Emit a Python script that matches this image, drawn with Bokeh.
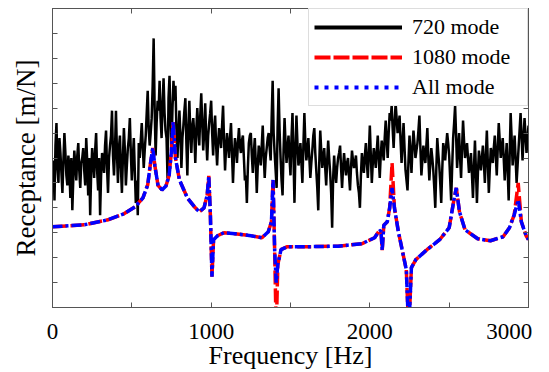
from bokeh.plotting import figure
from bokeh.models import LinearAxis, FixedTicker, Legend, LegendItem, Range1d
from bokeh.embed import file_html
from bokeh.resources import INLINE
import numpy as np

# ---------------- data ----------------
freq_step = 6.25  # Hz, sampling of the measured (720 mode) curve
# values at 0, 12.5, 25, ... Hz
resp_720_even = [
    # 0 - 537.5 Hz
    5.2, 4.3, 7.4, 5.0, 6.2, 4.6, 7.0, 5.3, 6.1, 4.4, 3.9, 6.3, 5.1, 6.6, 4.8, 6.0,
    5.5, 6.8, 4.5, 3.7, 6.4, 5.2, 7.0, 4.7, 3.7, 6.2, 5.4, 7.1, 4.6, 6.5, 7.9, 5.3,
    7.9, 5.0, 6.9, 4.6, 7.2, 4.9, 6.4, 7.6, 5.1, 6.8, 4.2, 3.7,
    # 550 - 987.5 Hz
    6.0, 7.4, 5.6, 6.9, 8.7, 6.5, 7.6, 10.8, 6.1, 8.3, 9.1, 6.8, 9.2, 7.1, 5.2, 9.3,
    6.4, 9.1, 8.9, 6.0, 7.9, 5.6, 7.3, 8.4, 5.3, 8.3, 6.2, 7.6, 5.8, 8.0, 6.5, 8.6,
    6.3, 8.2, 5.9, 7.4,
    # 1000 - 1387.5 Hz
    8.3, 6.1, 7.7, 5.7, 7.2, 6.4, 8.1, 5.5, 7.0, 6.0, 7.4, 5.0, 6.8, 5.8, 7.2, 6.2,
    6.9, 5.1, 4.2, 6.6, 7.0, 5.4, 6.8, 4.6, 6.5, 5.7, 7.3, 5.2, 6.4, 7.0, 5.9, 9.1,
    # 1400 - 1987.5 Hz
    6.2, 4.8, 8.8, 6.0, 4.5, 7.6, 5.8, 6.9, 5.3, 7.8, 4.2, 7.7, 5.7, 6.6, 5.0, 7.8,
    5.9, 6.8, 5.2, 6.3, 7.2, 5.5, 3.9, 7.1, 5.6, 6.4, 4.9, 6.7, 5.4, 3.2, 6.1, 5.0,
    6.0, 6.5, 4.8, 6.2, 5.3, 6.0, 4.7, 6.3, 5.6, 6.1, 4.9, 4.0, 6.2, 5.4, 6.6, 5.2,
    # 2000 - 2487.5 Hz
    7.3, 5.0, 6.4, 5.6, 6.9, 5.2, 6.7, 5.9, 7.5, 6.0, 7.8, 8.1, 6.4, 8.2, 7.0, 7.7,
    5.8, 7.4, 5.5, 4.7, 6.9, 5.4, 7.1, 6.0, 6.6, 7.7, 5.3, 6.5, 5.8, 7.2, 5.1, 6.4,
    5.5, 4.0, 6.8, 5.7, 4.2, 6.6, 5.9, 7.0,
    # 2500 - 3000 Hz
    6.1, 4.3, 6.8, 8.1, 5.6, 7.0, 5.2, 7.5, 6.0, 6.6, 5.4, 6.2, 4.4, 6.7, 4.2, 6.3,
    5.5, 6.5, 5.0, 7.1, 4.6, 6.4, 5.8, 6.9, 5.3, 7.4, 6.0, 6.8, 5.1, 6.6, 4.3, 7.8,
    5.7, 6.9, 5.0, 6.4, 7.8, 5.9, 7.6, 6.2, 7.3,
]
# values at 6.25, 18.75, 31.25, ... Hz
resp_720_odd = [
    # 6.25 - 543.75 Hz
    5.9, 6.5, 5.6, 6.8, 5.4, 5.9, 6.2, 4.9, 5.6, 6.0, 5.2, 5.7, 6.1, 5.5, 5.8, 6.4,
    4.9, 5.9, 6.0, 5.4, 5.8, 6.3, 5.5, 6.0, 5.3, 5.9, 6.5, 5.6, 6.0, 6.9, 6.1, 6.3,
    6.2, 6.4, 5.6, 6.0, 6.3, 5.7, 6.8, 6.2, 6.0, 5.5, 5.1, 6.6,
    # 556.25 - 993.75 Hz
    6.7, 6.5, 6.3, 7.8, 7.2, 7.0, 8.9, 8.0, 7.4, 7.9, 7.6, 8.2, 7.8, 6.8, 8.4, 7.5,
    8.0, 8.3, 7.1, 7.0, 6.9, 6.8, 7.9, 6.6, 7.2, 7.0, 7.3, 6.9, 7.1, 7.2, 7.7, 7.4,
    7.1, 6.8, 6.9, 7.8,
    # 1006.25 - 1393.75 Hz
    7.0, 7.2, 6.5, 6.6, 6.8, 7.3, 6.7, 6.4, 6.5, 6.8, 6.2, 6.1, 6.4, 6.6, 6.5, 6.7,
    6.0, 5.3, 5.6, 6.9, 6.1, 6.2, 5.8, 5.7, 6.2, 6.5, 6.1, 6.0, 6.8, 6.4, 7.6, 7.0,
    # 1406.25 - 1993.75 Hz
    5.5, 7.2, 7.1, 5.1, 6.3, 6.6, 6.4, 6.0, 6.8, 6.1, 6.3, 6.6, 6.0, 5.8, 6.5, 6.6,
    6.3, 6.0, 5.8, 6.9, 6.2, 4.8, 5.8, 6.3, 6.0, 5.6, 5.9, 6.0, 4.6, 5.2, 5.4, 5.6,
    6.2, 5.6, 5.6, 5.7, 5.8, 5.3, 5.6, 5.9, 5.8, 5.4, 4.6, 5.3, 5.7, 6.1, 5.8, 6.2,
    # 2006.25 - 2493.75 Hz
    6.1, 5.8, 6.0, 6.3, 6.0, 6.1, 6.3, 6.8, 6.7, 7.0, 7.5, 7.2, 7.4, 7.6, 7.3, 6.7,
    6.6, 6.4, 5.1, 5.9, 6.2, 6.4, 6.6, 6.3, 7.1, 6.4, 5.9, 6.1, 6.5, 6.0, 5.8, 6.0,
    4.8, 5.5, 6.2, 5.0, 5.5, 6.3, 6.5, 6.6,
    # 2506.25 - 2993.75 Hz
    5.2, 5.6, 7.4, 6.9, 6.3, 6.0, 6.4, 6.7, 6.3, 6.0, 5.8, 5.3, 5.6, 5.5, 5.4, 5.9,
    6.0, 5.8, 6.1, 5.8, 5.6, 6.1, 6.4, 6.1, 6.4, 6.7, 6.4, 6.0, 5.9, 5.5, 6.1, 6.8,
    6.3, 6.0, 5.7, 7.1, 6.9, 6.8, 6.9, 6.8,
]
resp_720 = np.empty(len(resp_720_even) + len(resp_720_odd))
resp_720[0::2] = resp_720_even
resp_720[1::2] = resp_720_odd
freq_720 = np.arange(len(resp_720)) * freq_step

freq_modal = [0, 200, 350, 450, 520, 570, 600, 620, 632, 645,
              665, 690, 715, 735, 750, 760, 775, 800, 850, 900,
              925, 955, 975, 985, 995, 1005, 1015, 1040, 1080, 1150,
              1250, 1320, 1360, 1380, 1390, 1400, 1410, 1420, 1440, 1480,
              1600, 1800, 1950, 2030, 2055, 2070, 2078, 2088, 2110, 2125,
              2140, 2155, 2180, 2210, 2230, 2245, 2262, 2290, 2360, 2440,
              2500, 2530, 2545, 2565, 2600, 2680, 2760, 2840, 2880, 2910,
              2935, 2955, 2985, 3000]
resp_all = [3.24, 3.32, 3.52, 3.76, 4.04, 4.4, 4.92, 5.9, 6.4, 5.7,
            4.9, 4.72, 4.88, 5.3, 6.3, 7.44, 6.0, 5.12, 4.4, 4.0,
            3.84, 4.0, 4.52, 5.28, 3.72, 1.24, 2.72, 2.88, 3.0, 2.96,
            2.88, 2.8, 3.04, 3.44, 5.12, 2.32, 1.0, 1.72, 2.32, 2.44,
            2.44, 2.46, 2.56, 2.8, 3.04, 3.1, 2.3, 3.3, 3.44, 4.0,
            4.8, 4.0, 3.04, 2.12, 1.52, -1.0, 1.6, 1.92, 2.32, 2.72,
            3.2, 4.32, 4.8, 3.84, 3.12, 2.76, 2.68, 2.84, 3.2, 3.72,
            4.32, 3.44, 2.88, 2.72]
resp_1080 = [3.24, 3.32, 3.52, 3.76, 4.04, 4.4, 4.92, 5.9, 6.4, 5.7,
             4.9, 4.72, 4.88, 5.3, 6.3, 7.44, 6.0, 5.12, 4.4, 4.0,
             3.84, 4.0, 4.52, 5.28, 3.72, 1.24, 2.72, 2.88, 3.0, 2.96,
             2.88, 2.8, 3.04, 3.44, 5.12, 2.32, -1.0, 1.72, 2.32, 2.44,
             2.44, 2.46, 2.56, 2.8, 3.04, 3.1, 2.3, 3.3, 3.44, 4.0,
             5.8, 4.0, 3.04, 2.12, 1.52, -1.0, 1.6, 1.92, 2.32, 2.72,
             3.2, 4.32, 4.8, 3.84, 3.12, 2.76, 2.68, 2.84, 3.2, 3.72,
             5.0, 3.44, 2.88, 2.72]

x_major_ticks = [0, 1000, 2000, 3000]
x_minor_ticks = [500, 1500, 2500]
x_tick_labels = {3000: "3000\u00a0\u00a0\u00a0"}
y_ticks = [0, 1, 2, 3, 4, 5, 6, 7, 8, 9, 10, 11, 12]
series_names = ["720 mode", "1080 mode", "All mode"]
x_title = "Frequency [Hz]"
y_title = "Receptance [m/N]"

# ---------------- figure ----------------
FONT = "Liberation Serif"
AX = "#555555"

p = figure(width=549, height=372, x_range=Range1d(0, 3000), y_range=Range1d(0, 12),
           output_backend="svg", toolbar_location=None,
           min_border_left=52, min_border_right=21, min_border_top=8, min_border_bottom=64)
p.grid.visible = False
p.outline_line_color = AX
p.background_fill_color = "white"
p.border_fill_color = "white"

xb = p.below[0]
xb.ticker = FixedTicker(ticks=x_major_ticks, minor_ticks=x_minor_ticks)
xb.major_label_overrides = x_tick_labels
xb.major_label_text_font = FONT
xb.major_label_text_font_size = "23px"
xb.major_label_text_color = "black"
xb.major_label_standoff = 11
xb.axis_label = x_title
xb.axis_label_text_font = FONT
xb.axis_label_text_font_size = "26px"
xb.axis_label_text_font_style = "normal"
xb.axis_label_text_color = "black"
xb.axis_label_standoff = -6

yl = p.left[0]
yl.ticker = FixedTicker(ticks=y_ticks)
yl.major_label_text_font_size = "1px"
yl.major_label_text_color = None
yl.major_label_standoff = 0
yl.axis_label = y_title
yl.axis_label_text_font = FONT
yl.axis_label_text_font_size = "27px"
yl.axis_label_text_font_style = "normal"
yl.axis_label_text_color = "black"
yl.axis_label_standoff = 12

for ax in (xb, yl):
    ax.axis_line_color = AX
    ax.major_tick_line_color = AX
    ax.minor_tick_line_color = AX
    ax.major_tick_in = 5
    ax.major_tick_out = 0
    ax.minor_tick_in = 5
    ax.minor_tick_out = 0

top = LinearAxis(ticker=FixedTicker(ticks=x_major_ticks, minor_ticks=x_minor_ticks),
                 major_label_text_font_size="1px", major_label_text_color=None,
                 major_tick_in=5, major_tick_out=0, minor_tick_in=5, minor_tick_out=0,
                 axis_line_color=AX, major_tick_line_color=AX, minor_tick_line_color=AX,
                 major_label_standoff=0)
right = LinearAxis(ticker=FixedTicker(ticks=y_ticks), major_label_text_font_size="1px",
                   major_label_text_color=None,
                   major_tick_in=5, major_tick_out=0, minor_tick_in=0, minor_tick_out=0,
                   axis_line_color=AX, major_tick_line_color=AX, major_label_standoff=0)
p.add_layout(top, "above")
p.add_layout(right, "right")

# curves
p.line(freq_720, resp_720, line_color="black", line_width=2.5)
p.line(freq_modal, resp_1080, line_color="#ff0000", line_width=3.5, line_dash="14 4")
p.line(freq_modal, resp_all, line_color="#0000ff", line_width=3.5, line_dash="10 3 3 3")

# legend proxies (legend glyph styles only; NaN data draws nothing in the plot)
nan_x = [np.nan]
nan_y = [np.nan]
lg_black = p.line(nan_x, nan_y, line_color="black", line_width=4)
lg_red = p.line(nan_x, nan_y, line_color="#ff0000", line_width=4, line_dash="16 3")
lg_blue = p.line(nan_x, nan_y, line_color="#0000ff", line_width=4, line_dash="4 6")

legend = Legend(items=[LegendItem(label=series_names[0], renderers=[lg_black]),
                       LegendItem(label=series_names[1], renderers=[lg_red]),
                       LegendItem(label=series_names[2], renderers=[lg_blue])],
                location="top_right", margin=0, padding=5, spacing=4,
                label_height=24, glyph_height=24, glyph_width=88, label_standoff=10,
                label_width=110,
                label_text_font=FONT, label_text_font_size="22px",
                label_text_color="black",
                border_line_color="#bbbbbb", border_line_width=1,
                background_fill_color="white", background_fill_alpha=1.0)
p.add_layout(legend)

open("out.html", "w").write(file_html(p, INLINE))
